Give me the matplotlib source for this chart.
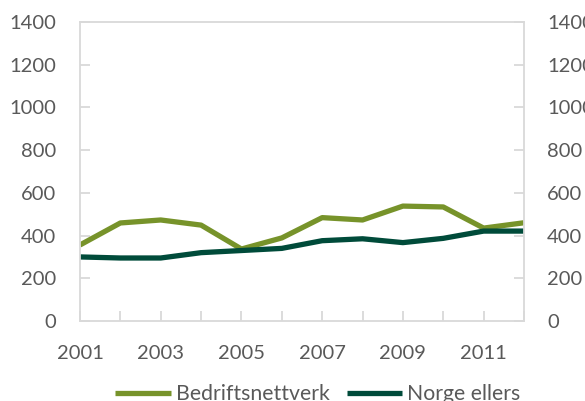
import matplotlib.pyplot as plt

plt.rcParams["font.family"] = ["Lato", "DejaVu Sans"]

years = [2001, 2002, 2003, 2004, 2005, 2006, 2007, 2008, 2009, 2010, 2011, 2012]
bedrift = [356, 459, 473, 449, 337, 389, 484, 473, 538, 534, 435, 460]
norge = [300, 295, 295, 320, 330, 340, 376, 385, 367, 387, 421, 421]
yticks = [0, 200, 400, 600, 800, 1000, 1200, 1400]
xlabels = ["2001", "2003", "2005", "2007", "2009", "2011"]

GREY = "#595959"
SPINE = "#d9d9d9"

fig = plt.figure(figsize=(5.85, 4.01), dpi=100)
ax = fig.add_axes([80 / 585, 1 - 321 / 401, 444 / 585, 299 / 401])

ax.plot(years, bedrift, color="#77932a", linewidth=3.8, label="Bedriftsnettverk",
        solid_capstyle="butt")
ax.plot(years, norge, color="#004b3a", linewidth=3.8, label="Norge ellers",
        solid_capstyle="butt")

ax.set_xlim(years[0], years[-1])
ax.set_ylim(0, 1400)
ax.set_yticks(yticks)
ax.set_xticks(years)
ax.set_xticklabels([str(y) if str(y) in xlabels else "" for y in years])

for s in ax.spines.values():
    s.set_color(SPINE)
    s.set_linewidth(1.3)

ax.tick_params(axis="both", direction="in", length=7, width=1.3, color=SPINE,
               labelcolor=GREY, labelsize=14.5)
ax.tick_params(axis="y", pad=17)
ax.tick_params(axis="x", pad=17)

# duplicate value axis on the right (labels run off the edge)
ax2 = ax.twinx()
ax2.set_ylim(0, 1400)
ax2.set_yticks(yticks)
for s in ax2.spines.values():
    s.set_visible(False)
ax2.tick_params(axis="y", direction="in", length=7, width=1.3, color=SPINE,
                labelcolor=GREY, labelsize=14.5, pad=16.5)

leg = ax.legend(loc="center", bbox_to_anchor=(0.536, -0.245), ncol=2,
                frameon=False, handlelength=2.6, handletextpad=0.25,
                columnspacing=0.8, fontsize=15.3, borderpad=0, borderaxespad=0)
for t in leg.get_texts():
    t.set_color(GREY)

fig.savefig("out.png", dpi=100)
